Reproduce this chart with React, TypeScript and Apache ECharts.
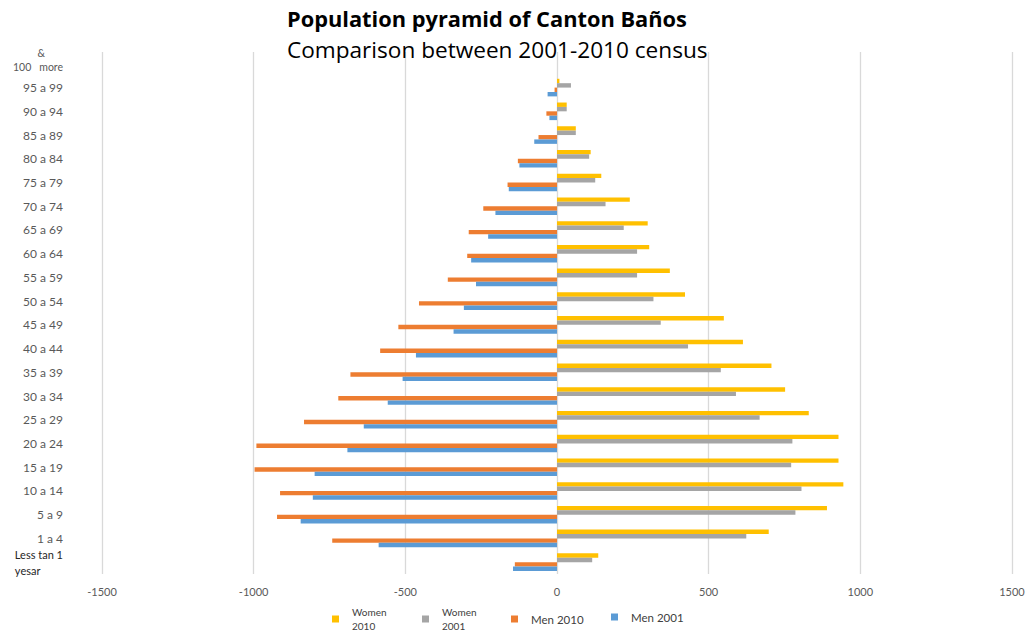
import React, { useEffect, useRef } from "react";
import * as echarts from "echarts";

const categories = [
  "Less tan 1 yesar", "1 a 4", "5 a 9", "10 a 14", "15 a 19", "20 a 24", "25 a 29",
  "30 a 34", "35 a 39", "40 a 44", "45 a 49", "50 a 54", "55 a 59", "60 a 64",
  "65 a 69", "70 a 74", "75 a 79", "80 a 84", "85 a 89", "90 a 94", "95 a 99", "100 & more",
];

const women2010 = [136, 698, 890, 944, 928, 928, 830, 752, 707, 613, 550, 422, 372, 304, 299, 240, 146, 111, 62, 32, 8, 0];
const women2001 = [116, 624, 786, 806, 772, 776, 668, 590, 540, 432, 342, 318, 264, 264, 220, 160, 126, 106, 62, 32, 46, 0];
const men2010 = [-139, -741, -923, -913, -997, -991, -834, -721, -681, -583, -523, -455, -360, -296, -291, -243, -163, -129, -61, -35, -8, 0];
const men2001 = [-145, -588, -845, -805, -799, -691, -637, -558, -509, -465, -341, -307, -267, -283, -227, -203, -159, -124, -75, -25, -31, 0];

const seriesNames = ["Women 2010", "Women 2001", "Men 2010", "Men 2001"];
const seriesColors = ["#FFC000", "#A5A5A5", "#ED7D31", "#5B9BD5"];
const seriesData = [women2010, women2001, men2010, men2001];

const xMin = -1500;
const xMax = 1500;
const xStep = 500;

const FONT = "Lato, 'Open Sans', sans-serif";
const TITLE_FONT = "'Open Sans', Lato, sans-serif";

export default function App() {
  const ref = useRef<HTMLDivElement>(null);

  useEffect(() => {
    if (!ref.current) return;
    const chart = echarts.init(ref.current, undefined, { renderer: "svg" });

    const legendPos = [
      { left: 332, top: 605, size: 10, label: "Women\n2010" },
      { left: 422, top: 605, size: 10, label: "Women\n2001" },
      { left: 511, top: 612, size: 11.5, label: "Men 2010" },
      { left: 611, top: 610, size: 11.5, label: "Men 2001" },
    ];

    chart.setOption({
      animation: false,
      backgroundColor: "#ffffff",
      title: [
        {
          text: "Population pyramid of Canton Baños",
          left: 287,
          top: 7,
          padding: 0,
          textStyle: { fontFamily: TITLE_FONT, fontSize: 21.8, fontWeight: "bold", color: "#000000" },
        },
        {
          text: "Comparison between 2001-2010 census",
          left: 287,
          top: 38,
          padding: 0,
          textStyle: { fontFamily: TITLE_FONT, fontSize: 22.6, fontWeight: "normal", color: "#000000" },
        },
      ],
      legend: legendPos.map((l, i) => ({
        data: [{ name: seriesNames[i] }],
        left: l.left,
        top: l.top,
        padding: 0,
        icon: "rect",
        itemWidth: 7,
        itemHeight: 7,
        selectedMode: false,
        formatter: () => l.label,
        textStyle: {
          fontFamily: FONT,
          fontSize: l.size,
          color: "#404040",
          lineHeight: 14,
          padding: [0, 0, 0, 8],
        },
      })),
      grid: { left: 102, right: 16, top: 52, bottom: 63, containLabel: false },
      xAxis: {
        type: "value",
        min: xMin,
        max: xMax,
        interval: xStep,
        axisLine: { show: false },
        axisTick: { show: false },
        splitLine: { show: true, lineStyle: { color: "#D9D9D9", width: 1.3 } },
        axisLabel: {
          fontFamily: FONT,
          fontSize: 11,
          color: "#595959",
          margin: 12,
          formatter: (v: number) => String(v),
        },
      },
      yAxis: {
        type: "category",
        data: categories,
        axisLine: { show: false, onZero: false },
        axisTick: { show: false },
        splitLine: { show: false },
        axisLabel: {
          fontFamily: FONT,
          fontSize: 12,
          color: "#595959",
          margin: 39,
          interval: 0,
          formatter: (v: string) => {
            if (v === "Less tan 1 yesar") return "{l|Less tan 1}\n{l|yesar}";
            if (v === "100 & more") return "{amp|&}\n{n|100}{m|more}\n{e| }";
            return v;
          },
          rich: {
            l: { align: "left", color: "#262626", fontFamily: FONT, fontSize: 11, lineHeight: 16 },
            amp: { align: "right", padding: [0, 18, 0, 0], color: "#595959", fontFamily: FONT, fontSize: 10.5, lineHeight: 14 },
            n: { padding: [0, 8, 0, 0], color: "#595959", fontFamily: FONT, fontSize: 10.5, lineHeight: 14 },
            m: { color: "#595959", fontFamily: FONT, fontSize: 10.5, lineHeight: 14 },
            e: { fontSize: 6, lineHeight: 8 },
          },
        },
      },
      series: seriesNames.map((name, i) => ({
        name,
        type: "bar",
        data: seriesData[i],
        barWidth: 4.4,
        barGap: "0%",
        itemStyle: { color: seriesColors[i] },
      })),
    });

    return () => chart.dispose();
  }, []);

  return (
    <div
      ref={ref}
      style={{ position: "absolute", left: 0, top: 0, width: 1028, height: 637 }}
    />
  );
}
